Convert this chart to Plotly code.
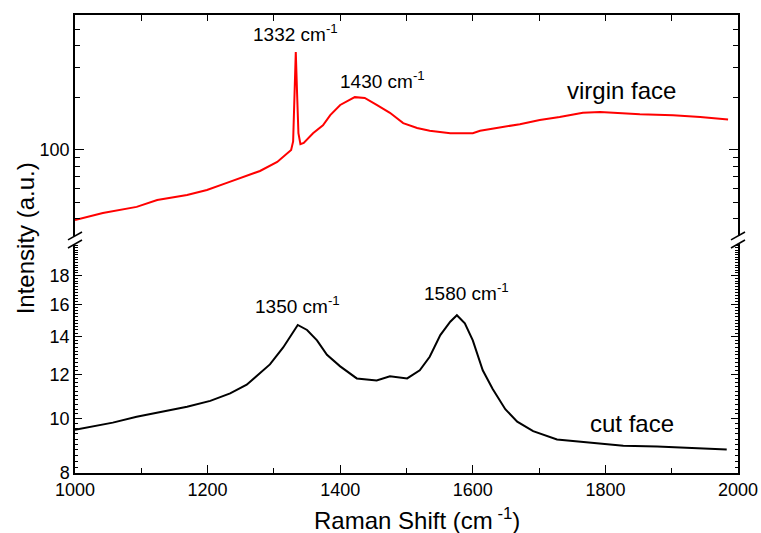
import plotly.graph_objects as go

# ---- data ----
virgin_x = [1000, 1042, 1093, 1124, 1169, 1199, 1229, 1253, 1279, 1305, 1321, 1326,
            1329, 1331, 1333, 1335, 1337, 1340, 1345, 1359, 1374, 1385, 1400, 1422,
            1437, 1455, 1475, 1495, 1516, 1535, 1566, 1600, 1611, 1636, 1671, 1701,
            1731, 1766, 1792, 1852, 1902, 1943, 1985]
virgin_y = [39.4, 43.2, 46.9, 51.4, 54.9, 58.7, 64.5, 69.8, 75.6, 85.3, 96.0, 100,
            112, 200, 368, 210, 125, 108, 110, 125, 139, 159, 182, 202,
            200, 182, 164, 143, 134, 129, 125, 125, 129, 134, 141, 149,
            155, 164, 166, 161, 159, 155, 150]

cut_x = [1000, 1057, 1093, 1133, 1169, 1204, 1234, 1259, 1274, 1294, 1314, 1327,
         1336, 1350, 1365, 1380, 1400, 1425, 1455, 1475, 1501, 1520, 1535, 1551,
         1566, 1576, 1588, 1600, 1615, 1630, 1649, 1667, 1691, 1727, 1777, 1827,
         1878, 1928, 1983]
cut_y = [9.56, 9.84, 10.08, 10.29, 10.5, 10.76, 11.1, 11.5, 11.9, 12.5, 13.4, 14.2,
         14.7, 14.4, 13.8, 13.0, 12.4, 11.8, 11.7, 11.9, 11.8, 12.2, 12.9, 14.1,
         14.9, 15.3, 14.8, 13.8, 12.2, 11.3, 10.4, 9.88, 9.5, 9.18, 9.06, 8.95,
         8.92, 8.88, 8.81]

x_ticks = [1000, 1200, 1400, 1600, 1800, 2000]
x_minor = [1100, 1300, 1500, 1700, 1900]
top_ticks = [100]
top_minor = [40, 50, 60, 70, 80, 90, 200, 300, 400, 500]
bottom_ticks = [8, 10, 12, 14, 16, 18]
bottom_minor = [round(8 + 0.2 * i, 1) for i in range(63)]

peak_labels = [
    ("1332 cm<sup>-1</sup>", 1333, 0.961),
    ("1430 cm<sup>-1</sup>", 1464, 0.857),
    ("1350 cm<sup>-1</sup>", 1336, 0.367),
    ("1580 cm<sup>-1</sup>", 1591, 0.395),
]
series_labels = [("virgin face", 1825, 0.836), ("cut face", 1840, 0.109)]

FONT = "Arial, Liberation Sans, sans-serif"

fig = go.Figure()
fig.add_trace(go.Scatter(x=virgin_x, y=virgin_y, mode="lines",
                         line=dict(color="#ff0000", width=2),
                         xaxis="x2", yaxis="y2", showlegend=False))
fig.add_trace(go.Scatter(x=cut_x, y=cut_y, mode="lines",
                         line=dict(color="#000000", width=2),
                         xaxis="x", yaxis="y", showlegend=False))

axis_common = dict(showgrid=False, zeroline=False, showline=True, linecolor="black",
                   linewidth=1.5, ticks="inside", tickcolor="black", tickwidth=1.3,
                   automargin=False,
                   tickfont=dict(family=FONT, size=18, color="black"))

fig.update_layout(
    width=761, height=533,
    margin=dict(l=75, r=23, t=15, b=60, autoexpand=False),
    paper_bgcolor="white", plot_bgcolor="white",
    font=dict(family=FONT, color="black"),
    xaxis=dict(**axis_common, range=[1000, 2000], anchor="y", side="bottom",
               tickvals=x_ticks, ticklen=8,
               minor=dict(tickvals=x_minor, ticks="inside", ticklen=5,
                          tickcolor="black", tickwidth=1.3)),
    xaxis2=dict(**axis_common, range=[1000, 2000], anchor="y2", side="top",
                matches="x", showticklabels=False,
                tickvals=x_ticks, ticklen=6,
                minor=dict(tickvals=x_minor, ticks="inside", ticklen=6,
                           tickcolor="black", tickwidth=1.3)),
    yaxis=dict(**axis_common, type="log", range=[0.9031, 1.3118], domain=[0, 0.5],
               anchor="x", mirror="allticks", tickvals=bottom_ticks, ticklen=7,
               minor=dict(tickvals=bottom_minor, ticks="inside", ticklen=3.5,
                          tickcolor="black", tickwidth=1)),
    yaxis2=dict(**axis_common, type="log", range=[1.503, 2.780], domain=[0.5175, 1],
                anchor="x2", mirror="allticks", tickvals=top_ticks, ticklen=9,
                minor=dict(tickvals=top_minor, ticks="inside", ticklen=5,
                           tickcolor="black", tickwidth=1.3)),
)

annotations = []
for text, xv, yp in peak_labels:
    annotations.append(dict(text=text, x=xv, y=yp, xref="x", yref="paper",
                            showarrow=False, xanchor="center", yanchor="middle",
                            font=dict(family=FONT, size=19, color="black")))
for text, xv, yp in series_labels:
    annotations.append(dict(text=text, x=xv, y=yp, xref="x", yref="paper",
                            showarrow=False, xanchor="center", yanchor="middle",
                            font=dict(family=FONT, size=24, color="black")))
annotations.append(dict(text="Raman Shift (cm<sup> -1</sup>)", x=0.516, y=-0.10,
                        xref="paper", yref="paper", showarrow=False,
                        xanchor="center", yanchor="middle",
                        font=dict(family=FONT, size=24, color="black")))
annotations.append(dict(text="Intensity (a.u.)", x=-0.075, y=0.513,
                        xref="paper", yref="paper", showarrow=False, textangle=-90,
                        xanchor="center", yanchor="middle",
                        font=dict(family=FONT, size=24, color="black")))
fig.update_layout(annotations=annotations)

# axis-break slashes
shapes = []
dx, dy = 0.0106, 0.0087
for xp in (0, 1):
    for yc in (0.5175, 0.5):
        shapes.append(dict(type="line", xref="paper", yref="paper",
                           x0=xp - dx, y0=yc - dy, x1=xp + dx, y1=yc + dy,
                           line=dict(color="black", width=1.5)))
fig.update_layout(shapes=shapes)

fig.write_html("out.html")
